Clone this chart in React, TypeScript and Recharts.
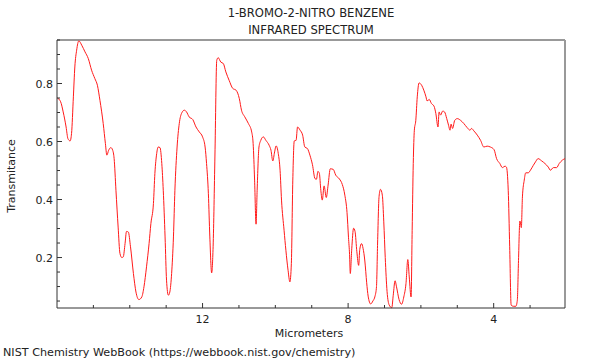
import { LineChart, Line, XAxis, YAxis, ReferenceLine } from 'recharts'

// wavelength (micrometers)
const wavelength = [
  15.99, 15.9, 15.83, 15.75, 15.7, 15.64, 15.6, 15.55, 15.51, 15.46, 15.4, 15.32, 15.23, 15.14, 15.05,
  14.96, 14.89, 14.82, 14.73, 14.67, 14.63, 14.58, 14.52, 14.47, 14.43, 14.38, 14.32, 14.27, 14.22, 14.18,
  14.13, 14.09, 14.04, 13.98, 13.9, 13.83, 13.75, 13.67, 13.61, 13.54, 13.47, 13.42, 13.35, 13.31, 13.26,
  13.22, 13.17, 13.12, 13.08, 13.03, 12.99, 12.94, 12.9, 12.85, 12.8, 12.76, 12.7, 12.64, 12.57, 12.5,
  12.44, 12.37, 12.27, 12.18, 12.09, 12.0, 11.93, 11.89, 11.84, 11.8, 11.75, 11.71, 11.66, 11.61, 11.57,
  11.5, 11.43, 11.36, 11.27, 11.17, 11.08, 10.99, 10.93, 10.84, 10.74, 10.65, 10.61, 10.57, 10.53, 10.5,
  10.45, 10.4, 10.33, 10.26, 10.17, 10.12, 10.07, 10.02, 9.98, 9.92, 9.87, 9.83, 9.76, 9.71, 9.65,
  9.6, 9.56, 9.52, 9.48, 9.43, 9.39, 9.32, 9.25, 9.19, 9.12, 9.05, 8.98, 8.91, 8.87, 8.83,
  8.79, 8.75, 8.71, 8.66, 8.6, 8.55, 8.49, 8.41, 8.34, 8.24, 8.16, 8.09, 8.03, 7.99, 7.96,
  7.94, 7.9, 7.85, 7.81, 7.76, 7.71, 7.68, 7.63, 7.59, 7.54, 7.49, 7.45, 7.38, 7.32, 7.26,
  7.22, 7.19, 7.15, 7.11, 7.06, 7.02, 6.98, 6.93, 6.87, 6.8, 6.76, 6.71, 6.67, 6.6, 6.53,
  6.47, 6.41, 6.36, 6.32, 6.27, 6.24, 6.21, 6.18, 6.14, 6.1, 6.05, 5.98, 5.92, 5.86, 5.83,
  5.77, 5.71, 5.64, 5.59, 5.53, 5.5, 5.46, 5.4, 5.35, 5.29, 5.24, 5.2, 5.17, 5.13, 5.07,
  5.0, 4.91, 4.82, 4.73, 4.65, 4.61, 4.54, 4.45, 4.36, 4.27, 4.18, 4.09, 3.99, 3.92, 3.83,
  3.76, 3.69, 3.65, 3.6, 3.56, 3.52, 3.46, 3.39, 3.35, 3.32, 3.28, 3.24, 3.21, 3.16, 3.12,
  3.05, 2.99, 2.91, 2.85, 2.78, 2.68, 2.59, 2.5, 2.44, 2.36, 2.27, 2.2, 2.11, 2.04,
]

const transmittance = [
  0.75, 0.737, 0.702, 0.65, 0.61, 0.602, 0.628, 0.754, 0.857, 0.915, 0.947, 0.932, 0.909, 0.886, 0.846,
  0.817, 0.794, 0.742, 0.662, 0.593, 0.553, 0.57, 0.579, 0.57, 0.541, 0.432, 0.305, 0.214, 0.2, 0.202,
  0.248, 0.29, 0.288, 0.237, 0.145, 0.081, 0.055, 0.064, 0.099, 0.168, 0.248, 0.317, 0.386, 0.49, 0.559,
  0.581, 0.579, 0.524, 0.432, 0.271, 0.122, 0.07, 0.081, 0.145, 0.271, 0.432, 0.581, 0.662, 0.699, 0.708,
  0.702, 0.685, 0.676, 0.65, 0.633, 0.616, 0.581, 0.524, 0.42, 0.271, 0.147, 0.237, 0.55, 0.88, 0.889,
  0.874, 0.869, 0.84, 0.811, 0.783, 0.777, 0.748, 0.708, 0.685, 0.662, 0.633, 0.593, 0.467, 0.315, 0.432,
  0.581, 0.604, 0.616, 0.604, 0.587, 0.57, 0.533, 0.564, 0.585, 0.559, 0.501, 0.398, 0.294, 0.225, 0.156,
  0.116, 0.179, 0.467, 0.602, 0.604, 0.65, 0.639, 0.622, 0.581, 0.576, 0.553, 0.52, 0.472, 0.47, 0.497,
  0.49, 0.432, 0.398, 0.447, 0.407, 0.45, 0.506, 0.504, 0.484, 0.471, 0.452, 0.415, 0.355, 0.27, 0.21,
  0.145, 0.23, 0.301, 0.29, 0.22, 0.173, 0.228, 0.248, 0.232, 0.188, 0.113, 0.067, 0.04, 0.05, 0.067,
  0.1, 0.25, 0.41, 0.435, 0.415, 0.323, 0.2, 0.083, 0.036, 0.027, 0.07, 0.12, 0.099, 0.055, 0.039,
  0.064, 0.11, 0.193, 0.133, 0.064, 0.294, 0.524, 0.639, 0.673, 0.754, 0.802, 0.794, 0.777, 0.754, 0.74,
  0.745, 0.731, 0.722, 0.697, 0.65, 0.702, 0.691, 0.705, 0.702, 0.679, 0.656, 0.639, 0.66, 0.645, 0.673,
  0.679, 0.673, 0.662, 0.648, 0.639, 0.645, 0.636, 0.622, 0.604, 0.581, 0.584, 0.581, 0.572, 0.541, 0.524,
  0.51, 0.515, 0.512, 0.432, 0.237, 0.036, 0.032, 0.032, 0.053, 0.179, 0.326, 0.303, 0.409, 0.467, 0.492,
  0.492, 0.501, 0.518, 0.53, 0.541, 0.533, 0.524, 0.512, 0.501, 0.51, 0.51, 0.524, 0.536, 0.541,
]

const xTicks = [3, 4, 5, 6, 7, 8, 9, 10, 11, 12, 13, 14, 15]
const yTicks = [0.05, 0.1, 0.15, 0.2, 0.25, 0.3, 0.35, 0.4, 0.45, 0.5, 0.55, 0.6, 0.65, 0.7, 0.75, 0.8, 0.85, 0.9, 0.95]

const data = wavelength.map((um, i) => ({ um, t: transmittance[i] }))

const FONT = 'DejaVu Sans'
const AXIS = '#333'

function XTick({ x, y, payload }: any) {
  const major = payload.value % 4 === 0
  return (
    <g>
      <line x1={x} x2={x} y1={y} y2={y - (major ? 5 : 3)} stroke={AXIS} />
      {major && (
        <text x={x} y={y + 15} textAnchor="middle" fontSize={11} fontFamily={FONT} fill="#222">
          {payload.value}
        </text>
      )}
    </g>
  )
}

function YTick({ x, y, payload }: any) {
  const major = Math.round(payload.value * 100) % 20 === 0
  return (
    <g>
      <line x1={x} x2={x + (major ? 5 : 3)} y1={y} y2={y} stroke={AXIS} />
      {major && (
        <text x={x - 4} y={y + 4} textAnchor="end" fontSize={11} fontFamily={FONT} fill="#222">
          {payload.value.toFixed(1)}
        </text>
      )}
    </g>
  )
}

export default function App() {
  return (
    <div style={{ position: 'absolute', left: 0, top: 0, width: 600, height: 360, background: '#fff' }}>
      <LineChart width={600} height={360} data={data} margin={{ top: 40, right: 35, bottom: 0, left: 0 }}>
        <XAxis
          dataKey="um"
          type="number"
          domain={[2.04, 16]}
          reversed
          ticks={xTicks}
          interval={0}
          tick={<XTick />}
          tickSize={0}
          tickMargin={0}
          height={52}
          stroke={AXIS}
        />
        <YAxis
          type="number"
          domain={[0.026, 0.95]}
          ticks={yTicks}
          interval={0}
          tick={<YTick />}
          tickSize={0}
          tickMargin={0}
          width={57}
          stroke={AXIS}
        />
        <ReferenceLine y={0.95} stroke="#999" strokeWidth={2} />
        <ReferenceLine x={2.04} stroke="#999" strokeWidth={2} />
        <Line
          dataKey="t"
          type="monotone"
          stroke="#ff1a1a"
          strokeWidth={1}
          dot={false}
          isAnimationActive={false}
        />
      </LineChart>
      <svg width={600} height={360} style={{ position: 'absolute', left: 0, top: 0, pointerEvents: 'none' }}>
        <g fontFamily={FONT} fill="#222">
          <text x={311} y={17} textAnchor="middle" fontSize={11.6}>1-BROMO-2-NITRO BENZENE</text>
          <text x={311} y={34} textAnchor="middle" fontSize={11.6}>INFRARED SPECTRUM</text>
          <text x={309} y={336.5} textAnchor="middle" fontSize={11}>Micrometers</text>
          <text transform="translate(15,176) rotate(-90)" textAnchor="middle" fontSize={11}>Transmitance</text>
          <text x={3} y={356} fontSize={11.2}>NIST Chemistry WebBook (https://webbook.nist.gov/chemistry)</text>
        </g>
      </svg>
    </div>
  )
}
